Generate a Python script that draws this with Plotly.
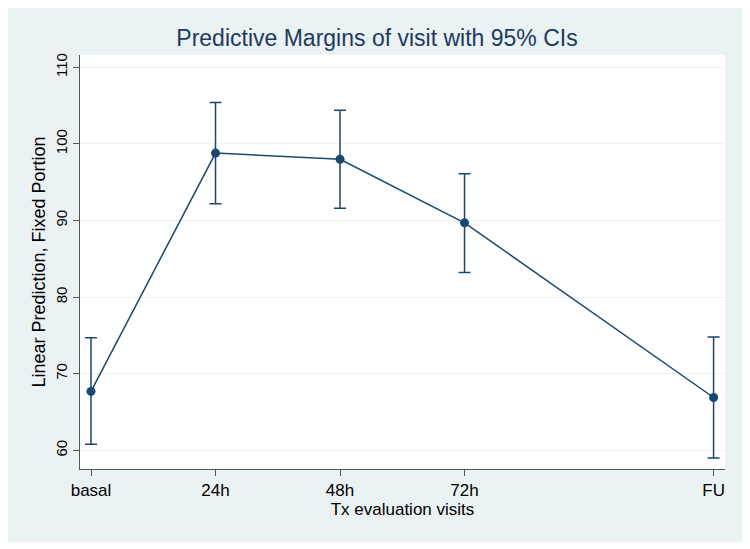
import plotly.graph_objects as go

# Data
visit_labels = ["basal", "24h", "48h", "72h", "FU"]
visit_pos = [0, 24, 48, 72, 120]
margin = [67.7, 98.8, 98.0, 89.7, 66.9]
ci_low = [60.8, 92.2, 91.6, 83.2, 59.0]
ci_high = [74.7, 105.4, 104.4, 96.1, 74.8]
y_ticks = [60, 70, 80, 90, 100, 110]

navy = "#1A476F"
sans = "Liberation Sans, Arial"

fig = go.Figure()
fig.add_trace(go.Scatter(
    x=visit_pos, y=margin,
    mode="lines+markers",
    line=dict(color=navy, width=1.5),
    marker=dict(color=navy, size=9),
    error_y=dict(
        type="data", symmetric=False,
        array=[h - m for h, m in zip(ci_high, margin)],
        arrayminus=[m - l for l, m in zip(ci_low, margin)],
        color=navy, thickness=1.5, width=6,
    ),
    showlegend=False,
))

# page body has an 8px margin; the figure sits inside it
W, H = 737, 534
L, R, T, B = 72, 20, 47, 73

fig.update_layout(
    width=W, height=H,
    margin=dict(l=L, r=R, t=T, b=B),
    paper_bgcolor="#EAF2F3",
    plot_bgcolor="white",
    title=dict(
        text="Predictive Margins of visit with 95% CIs",
        x=369 / W, xanchor="center",
        y=1 - 30 / H, yanchor="middle",
        font=dict(family=sans, size=23, color="#1E3A5F"),
    ),
    xaxis=dict(
        automargin=False,
        range=[-2.12, 122.2],
        tickmode="array", tickvals=visit_pos, ticktext=visit_labels,
        ticks="outside", ticklen=6, tickcolor="#555555",
        showgrid=False, zeroline=False,
        showline=True, linecolor="#555555", linewidth=1,
        tickfont=dict(family=sans, size=17, color="black"),
        title=dict(text="Tx evaluation visits", standoff=0,
                   font=dict(family=sans, size=17, color="black")),
    ),
    yaxis=dict(
        automargin=False,
        range=[57.57, 111.6],
        tickmode="array", tickvals=y_ticks,
        tickangle=-90,
        ticks="outside", ticklen=6, tickcolor="#555555",
        showgrid=True, gridcolor="#EAF2F3", gridwidth=1,
        zeroline=False,
        showline=True, linecolor="#555555", linewidth=1,
        tickfont=dict(family=sans, size=15, color="black"),
        title=dict(text="Linear Prediction, Fixed Portion", standoff=2,
                   font=dict(family=sans, size=18, color="black")),
    ),
)

fig.write_html("out.html")
